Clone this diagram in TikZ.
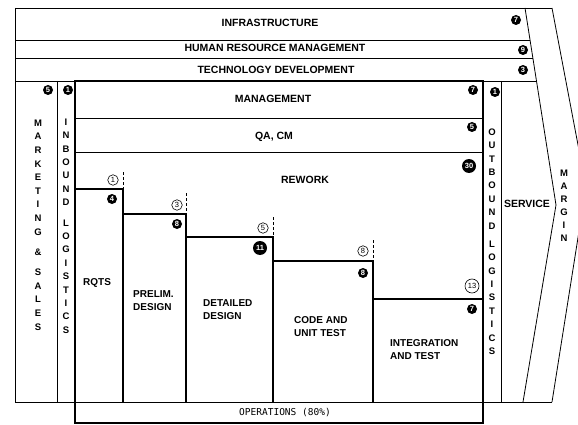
\documentclass[tikz,border=0pt]{standalone}
\usepackage{fontspec}
\setmainfont{Liberation Sans}
\newfontfamily\opsfont{DejaVu Sans Mono}
\begin{document}
\begin{tikzpicture}[x=1pt,y=-1pt,
  ln/.style={line width=0.8pt},
  stepln/.style={line width=1.4pt},
  thickbox/.style={line width=2.4pt},
  band/.style={font=\bfseries\fontsize{10.5}{12}\selectfont, inner sep=0pt},
  lbl/.style={font=\bfseries\fontsize{10}{13}\selectfont, align=left, inner sep=0pt, anchor=west},
  vlet/.style={font=\bfseries\fontsize{9.5}{10}\selectfont, inner sep=0pt},
  badge/.style={circle, fill=black, text=white, inner sep=0pt, minimum size=10pt, font=\bfseries\fontsize{7.5}{7.5}\selectfont},
  bigbadge/.style={badge, minimum size=14pt},
  obadge/.style={circle, draw, line width=0.6pt, inner sep=0pt, minimum size=10.5pt, font=\fontsize{7.5}{7.5}\selectfont},
  bigobadge/.style={obadge, minimum size=14pt},
  tickln/.style={line width=0.8pt, dash pattern=on 3pt off 2pt}]
\useasboundingbox (0,0) rectangle (578,425);
\clip (0,0) rectangle (578,425);
% outer frame
\draw[ln] (15,8) -- (552,8);
\draw[ln] (15,8) -- (15,402) -- (552,402);
\draw[ln] (525,8) -- (556,205) -- (523,402);
\draw[ln] (552,8) -- (586,187) -- (552,402);
\draw[ln] (15,40) -- (530,40);
\draw[ln] (15,58) -- (532.9,58);
\draw[ln] (15,81) -- (536.5,81);
\draw[ln] (57,81) -- (57,402);
\draw[ln] (501,81) -- (501,402);
% software box
\draw[ln] (75,118) -- (483,118);
\draw[ln] (75,152) -- (483,152);
\draw[stepln] (75,189) -- (123,189) -- (123,402);
\draw[stepln] (123,214) -- (186,214) -- (186,402);
\draw[stepln] (186,237) -- (273,237) -- (273,402);
\draw[stepln] (273,261) -- (373,261) -- (373,402);
\draw[stepln] (373,299) -- (483,299);
\draw[thickbox] (75,81) rectangle (483,423);
% dashed ticks
\draw[tickln] (123,172) -- (123,188);
\draw[tickln] (186,193) -- (186,213);
\draw[tickln] (273,217) -- (273,236);
\draw[tickln] (373,240) -- (373,260);
% band texts
\node[band] (infra) at (270,23) {INFRASTRUCTURE};
\node[band] (hrm) at (275,48) {HUMAN RESOURCE MANAGEMENT};
\node[band] (tech) at (276,70) {TECHNOLOGY DEVELOPMENT};
\node[band] (mgmt) at (273,99) {MANAGEMENT};
\node[band] (qa) at (274,137) {QA, CM};
\node[band] (rework) at (305,180) {REWORK};
\node[band] (service) at (527,204) {SERVICE};
% phase labels
\node[lbl] (rqts) at (83,283) {RQTS};
\node[lbl] (prelim) at (133,301) {PRELIM.\\DESIGN};
\node[lbl] (detailed) at (203,310) {DETAILED\\DESIGN};
\node[lbl] (code) at (294,326.5) {CODE AND\\UNIT TEST};
\node[lbl] (integ) at (390,349.5) {INTEGRATION\\AND TEST};
\node[inner sep=0pt, font=\opsfont\fontsize{9.5}{10}\selectfont] (ops) at (285,413) {OPERATIONS (80\%)};
% vertical letters
\foreach \t/\y [count=\i] in {M/123,A/136.6,R/150.2,K/163.8,E/177.4,T/191,I/204.6,N/218.2,G/231.8,\&/252,S/272.5,A/286.1,L/299.7,E/313.3,S/326.9}
  \node[vlet] (mk\i) at (38,\y) {\t};
\foreach \t/\y [count=\i] in {I/122,N/135.4,B/148.8,O/162.2,U/175.6,N/189,D/202.4,L/222.8,O/236.2,G/249.6,I/263,S/276.4,T/289.8,I/303.2,C/316.6,S/330}
  \node[vlet] (ib\i) at (66,\y) {\t};
\foreach \t/\y [count=\i] in {O/132,U/145.4,T/158.8,B/172.2,O/185.6,U/199,N/212.4,D/225.8,L/244,O/257.4,G/270.8,I/284.2,S/297.6,T/311,I/324.4,C/337.8,S/351.2}
  \node[vlet] (ob\i) at (492,\y) {\t};
\foreach \t/\y [count=\i] in {M/173,A/186,R/199,G/212,I/225,N/238}
  \node[vlet] (mg\i) at (564,\y) {\t};
% badges
\node[badge] (b1) at (516,20) {7};
\node[badge] (b2) at (523,50) {9};
\node[badge] (b3) at (523,70) {3};
\node[badge] (b4) at (473,90) {7};
\node[badge] (b5) at (495,92) {1};
\node[badge] (b6) at (472,127) {5};
\node[bigbadge] (b7) at (469,166) {30};
\node[badge] (b8) at (48,90) {5};
\node[badge] (b9) at (68,90) {1};
\node[badge] (b10) at (112,199) {4};
\node[badge] (b11) at (177,224) {8};
\node[bigbadge] (b12) at (260,248) {11};
\node[badge] (b13) at (363,273) {8};
\node[badge] (b14) at (472,309) {7};
% open circles
\node[obadge] (o1) at (113,180) {1};
\node[obadge] (o2) at (177,205) {3};
\node[obadge] (o3) at (263,228) {5};
\node[obadge] (o4) at (363,251) {8};
\node[bigobadge] (o5) at (472,286) {13};
\end{tikzpicture}
\end{document}
